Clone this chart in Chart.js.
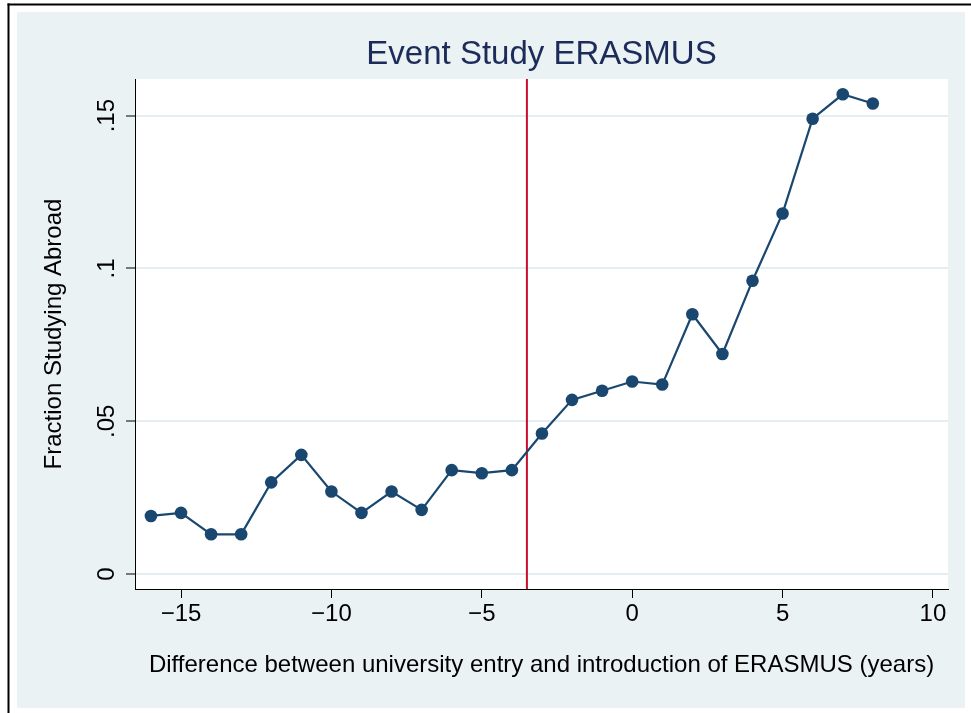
<!DOCTYPE html>
<html>
<head>
<meta charset="utf-8">
<script src="https://cdn.jsdelivr.net/npm/chart.js@4/dist/chart.umd.min.js"></script>
<style>
  html, body { margin: 0; padding: 0; background: #fff; }
  canvas { display: block; }
</style>
</head>
<body>
<canvas id="event-chart" width="971" height="713"></canvas>
<script>
const YEARS = [-16, -15, -14, -13, -12, -11, -10, -9, -8, -7, -6, -5, -4,
  -3, -2, -1, 0, 1, 2, 3, 4, 5, 6, 7, 8]
const FRACTION = [0.019, 0.020, 0.013, 0.013, 0.030, 0.039, 0.027, 0.020, 0.027,
  0.021, 0.034, 0.033, 0.034, 0.046, 0.057, 0.060, 0.063, 0.062, 0.085, 0.072,
  0.096, 0.118, 0.149, 0.157, 0.154]
const X_TICKS = [-15, -10, -5, 0, 5, 10]
const Y_TICKS = [0, 0.05, 0.1, 0.15]
const EVENT_X = -3.5
const X_RANGE = [-16.53, 10.5]
const Y_RANGE = [-0.0049, 0.162]

const COLORS = {
  navy: "#1a476f",
  title: "#1c2b5a",
  red: "#c8102e",
  region: "#eaf2f3",
  grid: "#e4edf0"
}
const FONT = "'Liberation Sans', Arial, sans-serif"

const background = {
  id: "background",
  beforeDraw(chart) {
    const {ctx, chartArea: a} = chart
    ctx.save()
    ctx.fillStyle = "#fff"
    ctx.fillRect(0, 0, chart.width, chart.height)
    ctx.fillStyle = "#000"
    ctx.fillRect(7.5, 3.5, chart.width, 2)
    ctx.fillRect(7.5, 3.5, 2, chart.height)
    ctx.fillStyle = COLORS.region
    ctx.fillRect(17, 12, 948, 696)
    ctx.fillStyle = "#fff"
    ctx.fillRect(a.left, a.top, a.right - a.left, a.bottom - a.top)
    ctx.restore()
  }
}

const fmtX = v => v < 0 ? "\u2212" + Math.abs(v) : String(v)
const fmtY = v => v === 0 ? "0" : String(v).replace(/^0/, "")

new Chart(document.getElementById("event-chart"), {
  type: "line",
  data: {
    datasets: [{
      data: YEARS.map((x, i) => ({x, y: FRACTION[i]})),
      borderColor: COLORS.navy,
      backgroundColor: COLORS.navy,
      borderWidth: 2.2,
      pointRadius: 6.3,
      pointBorderWidth: 0,
      tension: 0,
      order: 1
    }, {
      data: [{x: EVENT_X, y: Y_RANGE[0]}, {x: EVENT_X, y: Y_RANGE[1]}],
      borderColor: COLORS.red,
      borderWidth: 2,
      pointRadius: 0,
      order: 2
    }]
  },
  options: {
    responsive: false,
    animation: false,
    layout: { padding: { left: 17, right: 23, top: 0, bottom: 5 } },
    plugins: {
      legend: { display: false },
      tooltip: { enabled: false },
      title: {
        display: true,
        fullSize: false,
        text: "Event Study ERASMUS",
        color: COLORS.title,
        font: { family: FONT, size: 33, weight: "normal" },
        padding: { top: 35, bottom: 4.4 }
      }
    },
    scales: {
      x: {
        type: "linear",
        min: X_RANGE[0],
        max: X_RANGE[1],
        afterBuildTicks: axis => { axis.ticks = X_TICKS.map(value => ({value})) },
        afterFit: axis => { axis.height = 119 },
        border: { color: "#000", width: 1 },
        grid: { drawOnChartArea: false, tickColor: "#000", tickLength: 9, tickWidth: 1 },
        ticks: {
          callback: fmtX,
          color: "#000",
          padding: 2,
          maxRotation: 0,
          font: { family: FONT, size: 24 }
        },
        title: {
          display: true,
          text: "Difference between university entry and introduction of ERASMUS (years)",
          color: "#000",
          font: { family: FONT, size: 24 },
          padding: { top: 0, bottom: 28 }
        }
      },
      y: {
        min: Y_RANGE[0],
        max: Y_RANGE[1],
        afterBuildTicks: axis => { axis.ticks = Y_TICKS.map(value => ({value})) },
        afterFit: axis => { axis.width = 118 },
        border: { color: "#000", width: 1 },
        grid: { color: COLORS.grid, lineWidth: 2, tickColor: "#000", tickLength: 9, tickWidth: 1 },
        ticks: {
          callback: fmtY,
          color: "#000",
          minRotation: 90,
          maxRotation: 90,
          crossAlign: "center",
          padding: 2,
          font: { family: FONT, size: 24 }
        },
        title: {
          display: true,
          text: "Fraction Studying Abroad",
          color: "#000",
          font: { family: FONT, size: 24 },
          padding: { top: 23, bottom: 0 }
        }
      }
    }
  },
  plugins: [background]
})
</script>
</body>
</html>
